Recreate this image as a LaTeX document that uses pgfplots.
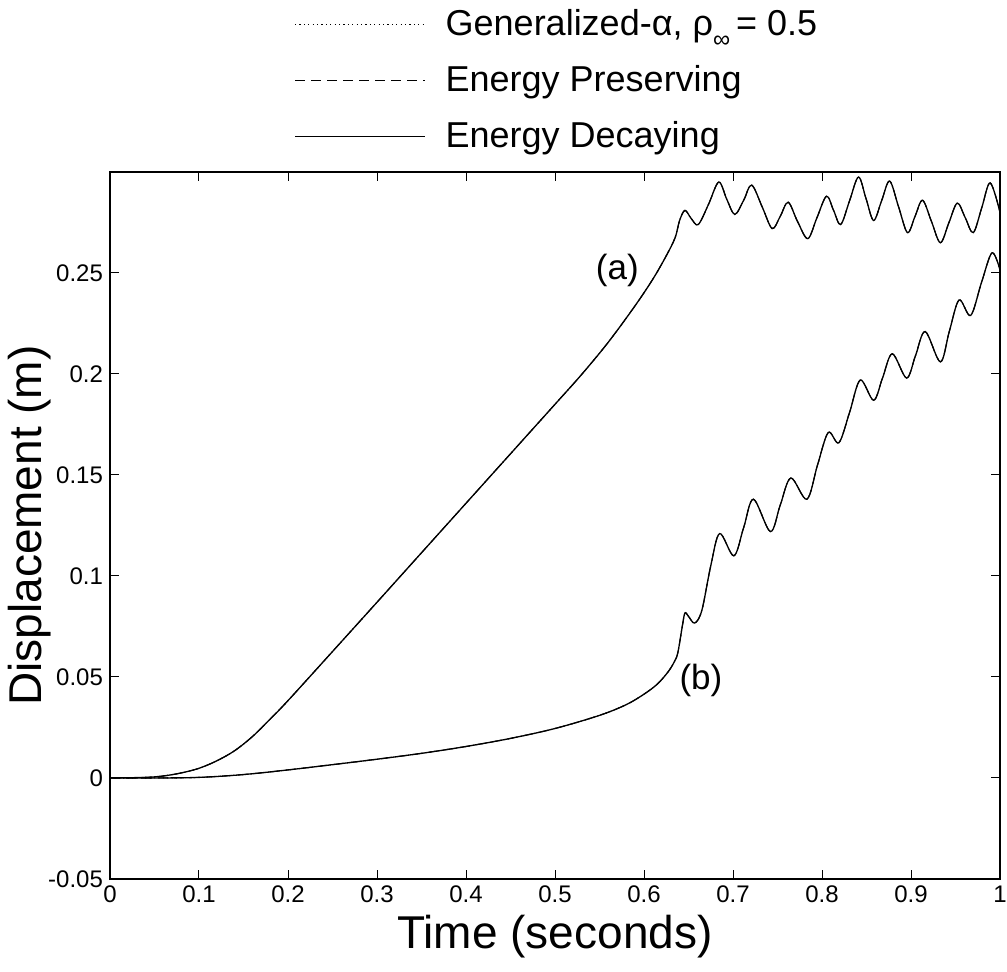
\documentclass[border=0pt]{standalone}
\usepackage{fontspec}
\setmainfont{Liberation Sans}
\usepackage{pgfplots}
\usepackage{pgfplotstable}
\pgfplotsset{compat=1.18}

% curve (a)
\pgfplotstableread{
t y
0 0
0.04 0.0003
0.06 0.001
0.08 0.0025
0.10 0.0048
0.12 0.0085
0.14 0.0135
0.16 0.0205
0.18 0.0292
0.20 0.0383
0.25 0.0626
0.30 0.087
0.35 0.1115
0.40 0.136
0.45 0.1605
0.50 0.185
0.53 0.1998
0.56 0.2158
0.59 0.2338
0.61 0.2470
0.625 0.2585
0.635 0.2675
0.640 0.276
0.646 0.281
0.653 0.277
0.661 0.274
0.6725 0.284
0.684 0.295
0.693 0.2865
0.702 0.279
0.712 0.286
0.721 0.2935
0.733 0.2825
0.744 0.272
0.753 0.278
0.762 0.285
0.7725 0.2755
0.784 0.267
0.794 0.277
0.805 0.288
0.813 0.281
0.821 0.274
0.831 0.2858
0.841 0.2975
0.8495 0.2868
0.858 0.276
0.867 0.2858
0.876 0.2955
0.886 0.2828
0.896 0.270
0.9045 0.278
0.913 0.286
0.923 0.2755
0.933 0.265
0.9425 0.2748
0.952 0.2846
0.961 0.2773
0.970 0.270
0.9795 0.2823
0.989 0.2946
1.0 0.280
}\curvea

% curve (b)
\pgfplotstableread{
t y
0 0
0.05 0
0.10 0.0003
0.15 0.0017
0.20 0.0040
0.25 0.0066
0.30 0.0093
0.35 0.0122
0.40 0.0156
0.45 0.0196
0.50 0.0245
0.55 0.0310
0.58 0.0363
0.60 0.0415
0.615 0.0465
0.627 0.0525
0.634 0.0575
0.638 0.062
0.643 0.075
0.646 0.0817
0.650 0.080
0.657 0.0767
0.665 0.083
0.675 0.105
0.685 0.121
0.701 0.110
0.712 0.124
0.723 0.138
0.742 0.122
0.753 0.135
0.765 0.1485
0.783 0.138
0.795 0.155
0.807 0.171
0.819 0.166
0.831 0.181
0.843 0.197
0.858 0.187
0.868 0.198
0.879 0.210
0.895 0.198
0.905 0.209
0.916 0.221
0.933 0.206
0.943 0.221
0.954 0.2366
0.967 0.229
0.979 0.245
0.991 0.260
1.0 0.2515
}\curveb

\begin{document}
\begin{tikzpicture}
\begin{axis}[
  name=ax,
  scale only axis,
  width=445pt, height=353.5pt,
  xmin=0, xmax=1, ymin=-0.05, ymax=0.3,
  xtick={0,0.1,0.2,0.3,0.4,0.5,0.6,0.7,0.8,0.9,1},
  xticklabels={0,0.1,0.2,0.3,0.4,0.5,0.6,0.7,0.8,0.9,1},
  ytick={-0.05,0,0.05,0.1,0.15,0.2,0.25},
  yticklabels={-0.05,0,0.05,0.1,0.15,0.2,0.25},
  tick align=inside,
  major tick length=4.5pt,
  axis line style={line width=0.8pt},
  tick style={line width=0.5pt, black},
  ticklabel style={font=\fontsize{12}{14}\selectfont},
  xlabel={Time (seconds)},
  ylabel={Displacement (m)},
  label style={font=\fontsize{23}{27}\selectfont},
  x label style={at={(axis description cs:0.5,-0.082)}, anchor=center},
  y label style={at={(axis description cs:-0.09,0.5)}, anchor=center},
  legend style={draw=none, fill=none, font=\fontsize{18}{21}\selectfont,
    at={(0.2,1.018)}, anchor=south west, row sep=9.5pt, cells={anchor=west},
    /tikz/every odd column/.append style={column sep=8pt}},
  legend image code/.code={\draw[#1] (0pt,0pt) -- (65pt,0pt);},
  clip=true,
]
\addplot[black, line width=0.5pt, dash pattern=on 0.6pt off 1.6pt, smooth, tension=0.55] table[x=t,y=y] {\curvea};
\addplot[black, line width=0.5pt, dash pattern=on 5pt off 3pt, smooth, tension=0.55] table[x=t,y=y] {\curvea};
\addplot[black, line width=0.65pt, smooth, tension=0.55] table[x=t,y=y] {\curvea};
\addplot[black, line width=0.5pt, dash pattern=on 0.6pt off 1.6pt, smooth, tension=0.55, forget plot] table[x=t,y=y] {\curveb};
\addplot[black, line width=0.5pt, dash pattern=on 5pt off 3pt, smooth, tension=0.55, forget plot] table[x=t,y=y] {\curveb};
\addplot[black, line width=0.65pt, smooth, tension=0.55, forget plot] table[x=t,y=y] {\curveb};
\legend{{Generalized-α, ρ\raisebox{-0.32em}{\fontsize{12}{12}\selectfont ∞}\,= 0.5}, Energy Preserving, Energy Decaying}
\node[font=\fontsize{17.5}{20}\selectfont] at (axis cs:0.570,0.2515) {(a)};
\node[font=\fontsize{17.5}{20}\selectfont] at (axis cs:0.664,0.0485) {(b)};
\end{axis}
\pgfresetboundingbox
\path[use as bounding box] ([xshift=-55pt,yshift=-46.5pt]ax.south west) rectangle ([xshift=3.5pt,yshift=86pt]ax.north east);
\end{tikzpicture}
\end{document}
